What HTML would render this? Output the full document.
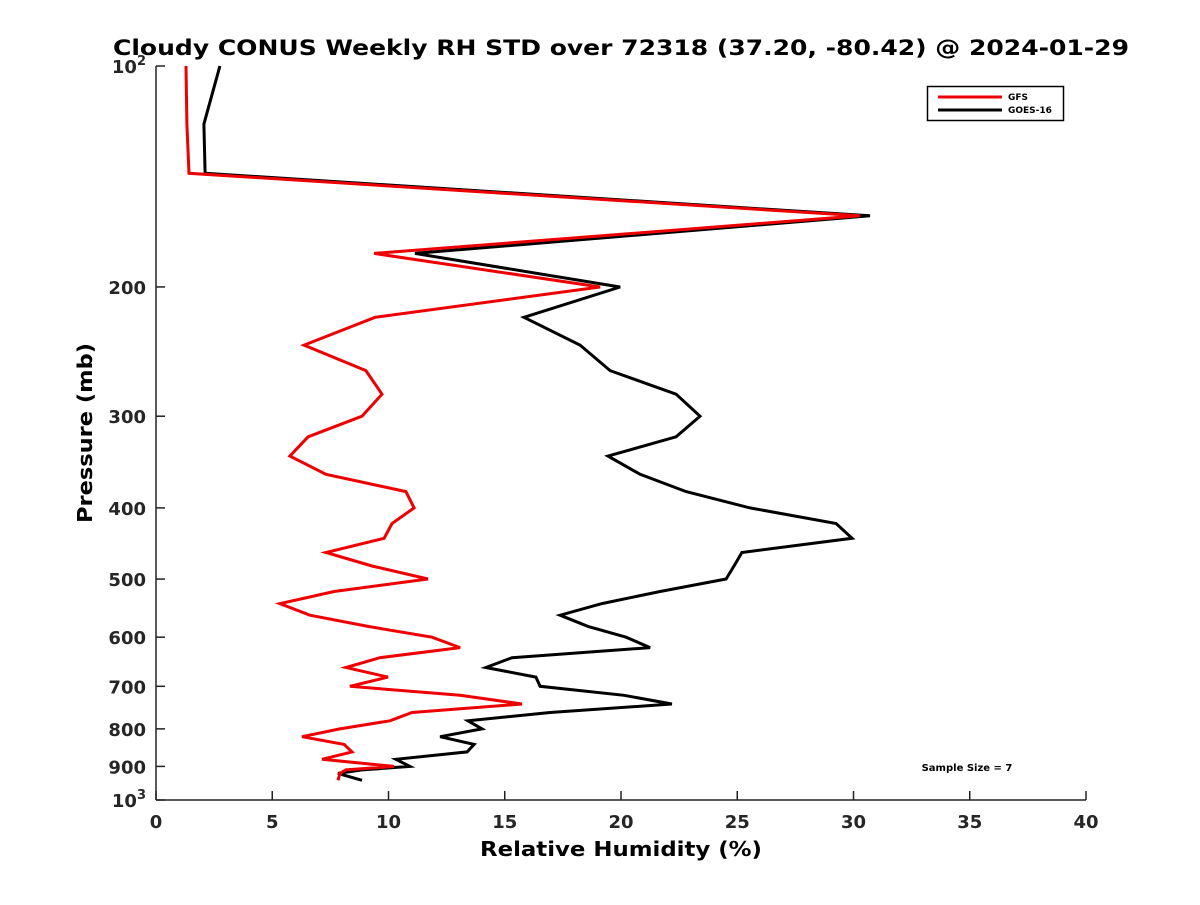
<!DOCTYPE html>
<html><head><meta charset="utf-8"><style>
body{margin:0;background:#fff}
text{font-family:"DejaVu Sans","Liberation Sans",sans-serif;font-weight:bold}
</style></head><body>
<svg id="chart" width="1200" height="900">
<rect width="1200" height="900" fill="#fff"/>
<text x="621" y="55" font-size="21" text-anchor="middle" textLength="1016" lengthAdjust="spacingAndGlyphs">Cloudy CONUS Weekly RH STD over 72318 (37.20, -80.42) @ 2024-01-29</text>
<g id="axes"></g>
<g id="series"></g>
<text x="621" y="856" font-size="20" text-anchor="middle" textLength="282" lengthAdjust="spacingAndGlyphs">Relative Humidity (%)</text>
<text transform="translate(92,433) rotate(-90)" font-size="20" text-anchor="middle" textLength="180" lengthAdjust="spacingAndGlyphs">Pressure (mb)</text>
<g>
<rect x="927.5" y="86.5" width="136" height="34" fill="#fff" stroke="#000" stroke-width="1.5"/>
<line x1="938" y1="97" x2="1002" y2="97" stroke="#e00" stroke-width="3"/>
<text x="1008" y="100" font-size="9">GFS</text>
<line x1="938" y1="110" x2="1002" y2="110" stroke="#000" stroke-width="3"/>
<text x="1008" y="113" font-size="9">GOES-16</text>
</g>
<text x="967" y="771" font-size="10" text-anchor="middle">Sample Size = 7</text>
</svg>
<script>
const pressures=[100,120,140,160,180,200,220,240,260,280,300,320,340,360,380,400,420,440,460,480,500,520,540,560,580,600,620,640,660,680,700,720,740,760,780,800,820,840,860,880,900,910,920,940];
const gfs=[1.29,1.33,1.42,30.28,9.38,19.10,9.42,6.37,9.03,9.72,8.86,6.54,5.76,7.31,10.75,11.10,10.15,9.81,7.31,9.29,11.70,7.66,5.33,6.62,9.12,11.87,13.08,9.63,8.17,9.98,8.34,13.08,15.74,11.01,10.06,7.91,6.28,8.09,8.43,7.14,10.24,8.17,7.91,7.83];
const goes=[2.75,2.06,2.11,30.71,11.14,19.96,15.83,18.24,19.53,22.37,23.40,22.37,19.44,20.82,22.80,25.55,29.25,29.94,25.20,24.86,24.52,21.68,19.18,17.38,18.58,20.22,21.25,15.31,14.19,16.34,16.52,20.13,22.19,16.95,13.42,14.02,12.22,13.68,13.38,10.32,10.92,8.86,7.83,8.86];
const xTicks=[0,5,10,15,20,25,30,35,40];
const yTicks=[100,200,300,400,500,600,700,800,900,1000];
const X0=156,X1=1086,Y0=66,Y1=800;
const xs=v=>X0+(v-0)/(40-0)*(X1-X0);
const ys=p=>Y0+(Math.log10(p)-2)*(Y1-Y0);
const NS="http://www.w3.org/2000/svg";
function mk(t,a,parent){const e=document.createElementNS(NS,t);for(const k in a)e.setAttribute(k,a[k]);parent.appendChild(e);return e;}
const ax=document.getElementById('axes');
let l=mk('line',{x1:X0,y1:Y0,x2:X0,y2:Y1,stroke:'#222','stroke-width':1.5},ax);


l=mk('line',{x1:X0,y1:Y1,x2:X1,y2:Y1,stroke:'#222','stroke-width':1.5},ax);


xTicks.forEach(v=>{
 const x=xs(v);
 mk('line',{x1:x,y1:Y1,x2:x,y2:Y1-9,stroke:'#222','stroke-width':1.5},ax);
 const t=mk('text',{x:x,y:Y1+28,'font-size':18,'text-anchor':'middle',fill:'#262626'},ax);
 t.textContent=v;
 
 
});
yTicks.forEach(p=>{
 const y=ys(p);
 mk('line',{x1:X0,y1:y,x2:X0+9,y2:y,stroke:'#222','stroke-width':1.5},ax);
 const t=mk('text',{x:X0-10,y:y+7,'font-size':18,'text-anchor':'end',fill:'#262626'},ax);
 if(p===100||p===1000){t.textContent='10';const s=mk('tspan',{dy:-8,'font-size':13},t);s.textContent=p===100?'2':'3';}
 else t.textContent=p;
 
 
});
const sg=document.getElementById('series');
function line(vals,color,name){
 const d=vals.map((v,i)=>(i?'L':'M')+xs(v).toFixed(1)+','+ys(pressures[i]).toFixed(1)).join(' ');
 const p=mk('path',{d:d,fill:'none',stroke:color,'stroke-width':3,'stroke-linejoin':'miter'},sg);
 
 
}
line(goes,'#000','goes16-line');
line(gfs,'#e00','gfs-line');
</script>
</body></html>
